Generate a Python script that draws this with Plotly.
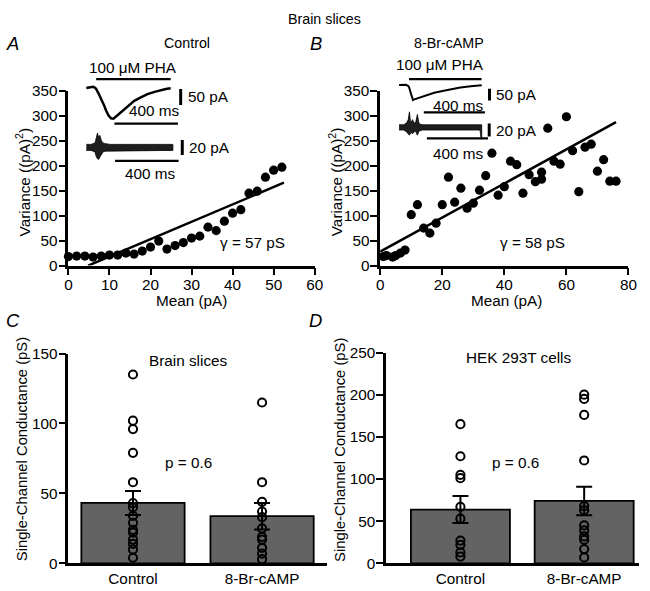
import plotly.graph_objects as go

W, H = 650, 591
FONT = "Liberation Sans"
# measured mapping of the photographed page: picture = OX + SX * page  (per axis)
OX, SX = 2.1, 0.987
OY, SY = 8.2, 0.972
FS = 1.02  # font/marker compensation for the slight photo shrink

# ---------------- Panel A data (Control) ----------------
meanA = [0, 2, 4, 6, 8, 10, 12, 14, 16, 18, 20, 22, 24, 26, 28, 30, 32, 34, 36, 38, 40, 42, 44, 46, 48, 50, 52]
varA = [18, 19, 19, 17, 19, 21, 21, 25, 23, 29, 37, 49, 33, 40, 46, 55, 59, 77, 70, 89, 105, 112, 145, 149, 177, 191, 197]
fitA_x = [4.8, 52.5]
fitA_y = [0, 166]

# ---------------- Panel B data (8-Br-cAMP) ----------------
meanB = [1, 2, 4, 5, 6.5, 8, 10, 12, 14, 16, 18, 20, 22, 24, 26, 28, 30, 32, 34, 36, 38, 40, 42, 44,
         46, 48, 50, 52, 52, 54, 56, 58, 60, 62, 64, 66, 68, 70, 72, 74, 76]
varB = [18, 20, 17, 20, 25, 31, 102, 122, 75, 65, 85, 122, 177, 127, 155, 115, 125, 151, 180, 225, 141, 158, 209, 202,
        145, 182, 168, 173, 187, 275, 209, 203, 298, 230, 148, 237, 243, 189, 212, 169, 169]
fitB_x = [0, 76]
fitB_y = [28, 287]

# ---------------- Panel C data (Brain slices) ----------------
groups = ["Control", "8-Br-cAMP"]
meanC = [43.2, 33.7]
semC = [8.6, 9.5]
ptsC_control = [135, 102, 96, 79, 58, 43, 40, 34, 29, 24, 22, 17, 14, 10, 4]
ptsC_camp = [115, 58, 44, 37, 33, 25, 19, 17, 11, 7, 3]

# ---------------- Panel D data (HEK 293T cells) ----------------
meanD = [63.8, 74.0]
semD = [16.0, 16.8]
ptsD_control = [165, 127, 105, 101, 67, 53, 27, 22, 13, 8]
ptsD_camp = [200, 195, 176, 122, 68, 63, 45, 39, 32, 28, 17, 7]

# ---------------- Inset traces (time in ms, current in pA) ----------------
traceA_t = [0, 20, 42, 55, 62, 75, 94, 110, 125, 140, 156, 170, 187, 210, 240, 270, 302, 340, 385, 430, 469, 500, 531]
traceA_i = [0, 2, 4, 1, -3, -15, -34, -52, -71, -86, -95, -96, -89, -79, -66, -52, -40, -30, -19, -12, -6, -3, -1]
noiseA_t = [0, 30, 55, 62, 70, 78, 85, 95, 105, 120, 150, 200, 300, 400, 500, 545]
noiseA_hi = [4, 4, 6, 12, 19, 13, 16, 9, 6, 5, 4, 4, 4, 4, 4, 4]
noiseA_lo = [-4, -4, -6, -12, -15, -16, -13, -9, -6, -5, -4, -4, -4, -4, -4, -4]

traceB_t = [0, 25, 45, 58, 65, 75, 84, 91, 100, 115, 130, 160, 184, 230, 292, 350, 401, 470, 541]
traceB_i = [0, 1, 1, -3, -8, -30, -50, -63, -60, -57, -52, -47, -42, -32, -24, -16, -10, -5, -1]
noiseB_t = [0, 30, 50, 60, 68, 74, 80, 88, 96, 108, 120, 130, 150, 250, 350, 450, 530, 537, 541]
noiseB_hi = [4, 4, 7, 12, 24, 9, 8, 12, 7, 7, 20, 6, 4, 4, 4, 4, 4, 4, 4]
noiseB_lo = [-4, -4, -7, -10, -12, -9, -8, -10, -7, -6, -12, -6, -4, -4, -4, -4, -4, -18, -18]

# scale-bar / stimulus values (ms, pA)
phaA = ([62, 531], 28)
phaB = ([65, 540], 25)
barA1 = ([177, 577], -111)
barA2 = ([181, 581], -18)
barB1 = ([162, 562], -114)
barB2 = ([182, 582], -17)
vbarA1 = (594, [-3, -53])
vbarA2 = (604, [10, -10])
vbarB1 = (592, [-15, -65])
vbarB2 = (590, [6, -14])


def fx(px):
    return min(1.0, max(0.0, (px - OX) / SX / W))


def fy(py):
    return min(1.0, max(0.0, 1 - (py - OY) / SY / H))


fig = go.Figure()
blk = "black"
MS = 9 * FS

# Panel A
fig.add_trace(go.Scatter(x=meanA, y=varA, mode="markers", marker=dict(color=blk, size=MS),
                         cliponaxis=False, xaxis="x", yaxis="y"))
fig.add_trace(go.Scatter(x=fitA_x, y=fitA_y, mode="lines", line=dict(color=blk, width=2.5),
                         xaxis="x", yaxis="y"))
# Panel B
fig.add_trace(go.Scatter(x=meanB, y=varB, mode="markers", marker=dict(color=blk, size=MS),
                         cliponaxis=False, xaxis="x2", yaxis="y2"))
fig.add_trace(go.Scatter(x=fitB_x, y=fitB_y, mode="lines", line=dict(color=blk, width=2.5),
                         xaxis="x2", yaxis="y2"))

# Panel C
fig.add_trace(go.Bar(x=groups, y=meanC, width=0.8, marker=dict(color="#636363", line=dict(color=blk, width=1.8)),
                     error_y=dict(type="data", array=semC, color=blk, thickness=2, width=8),
                     xaxis="x3", yaxis="y3"))
fig.add_trace(go.Scatter(x=[groups[0]] * len(ptsC_control) + [groups[1]] * len(ptsC_camp),
                         y=ptsC_control + ptsC_camp, mode="markers", cliponaxis=False,
                         marker=dict(symbol="circle-open", color=blk, size=8.2, line=dict(width=2)),
                         xaxis="x3", yaxis="y3"))
# Panel D
fig.add_trace(go.Bar(x=groups, y=meanD, width=0.8, marker=dict(color="#636363", line=dict(color=blk, width=1.8)),
                     error_y=dict(type="data", array=semD, color=blk, thickness=2, width=8),
                     xaxis="x4", yaxis="y4"))
fig.add_trace(go.Scatter(x=[groups[0]] * len(ptsD_control) + [groups[1]] * len(ptsD_camp),
                         y=ptsD_control + ptsD_camp, mode="markers", cliponaxis=False,
                         marker=dict(symbol="circle-open", color=blk, size=8.2, line=dict(width=2)),
                         xaxis="x4", yaxis="y4"))


def add_line(xs, ys, xa, ya, w=2.2):
    fig.add_trace(go.Scatter(x=xs, y=ys, mode="lines", line=dict(color=blk, width=w),
                             cliponaxis=False, xaxis=xa, yaxis=ya))


def add_band(ts, hi, lo, xa, ya):
    fig.add_trace(go.Scatter(x=ts + ts[::-1], y=hi + lo[::-1], mode="lines", fill="toself",
                             fillcolor="#1e1e1e", line=dict(color=blk, width=0.8), cliponaxis=False,
                             xaxis=xa, yaxis=ya))


# inset A top (mean current)
add_line(traceA_t, traceA_i, "x5", "y5", 2.5)
add_line(phaA[0], [phaA[1]] * 2, "x5", "y5")
add_line(barA1[0], [barA1[1]] * 2, "x5", "y5")
add_line([vbarA1[0]] * 2, vbarA1[1], "x5", "y5", 3)
# inset A bottom (noise)
add_band(noiseA_t, noiseA_hi, noiseA_lo, "x6", "y6")
add_line(barA2[0], [barA2[1]] * 2, "x6", "y6")
add_line([vbarA2[0]] * 2, vbarA2[1], "x6", "y6", 3)
# inset B top
add_line(traceB_t, traceB_i, "x7", "y7", 2)
add_line(phaB[0], [phaB[1]] * 2, "x7", "y7")
add_line(barB1[0], [barB1[1]] * 2, "x7", "y7")
add_line([vbarB1[0]] * 2, vbarB1[1], "x7", "y7", 3)
# inset B bottom
add_band(noiseB_t, noiseB_hi, noiseB_lo, "x8", "y8")
add_line(barB2[0], [barB2[1]] * 2, "x8", "y8")
add_line([vbarB2[0]] * 2, vbarB2[1], "x8", "y8", 3)

tickfont = dict(family=FONT, size=15 * FS, color=blk)
axis_common = dict(showline=True, linecolor=blk, linewidth=2.5, ticks="outside", ticklen=7,
                   tickwidth=2, tickcolor=blk, showgrid=False, zeroline=False, tickfont=tickfont,
                   fixedrange=True)
xnum = {**axis_common, "ticklabelstandoff": -4}
ynum = {**axis_common, "ticklabelstandoff": -2}
xcat = {**axis_common, "ticks": "", "ticklabelstandoff": 0}

hidden = dict(visible=False, showgrid=False, zeroline=False, fixedrange=True)

fig.update_layout(
    width=W, height=H, margin=dict(l=0, r=0, t=0, b=0),
    paper_bgcolor="white", plot_bgcolor="rgba(0,0,0,0)", showlegend=False,
    font=dict(family=FONT, color=blk),
    xaxis=dict(domain=[fx(67), fx(315)], range=[0, 60], tickvals=[0, 10, 20, 30, 40, 50, 60], anchor="y", **xnum),
    yaxis=dict(domain=[fy(265), fy(90)], range=[0, 350], tickvals=list(range(0, 351, 50)), anchor="x", **ynum),
    xaxis2=dict(domain=[fx(381), fx(631)], range=[0, 80], tickvals=[0, 20, 40, 60, 80], anchor="y2", **xnum),
    yaxis2=dict(domain=[fy(265), fy(90)], range=[0, 350], tickvals=list(range(0, 351, 50)), anchor="x2", **ynum),
    xaxis3=dict(domain=[fx(67), fx(327)], range=[-0.5, 1.5], type="category", anchor="y3", **xcat),
    yaxis3=dict(domain=[fy(563), fy(353)], range=[0, 150], tickvals=[0, 50, 100, 150], anchor="x3", **ynum),
    xaxis4=dict(domain=[fx(387), fx(642)], range=[-0.6, 1.446], type="category", anchor="y4", **xcat),
    yaxis4=dict(domain=[fy(563), fy(352)], range=[0, 250], tickvals=[0, 50, 100, 150, 200, 250], anchor="x4", **ynum),
    xaxis5=dict(domain=[fx(80), fx(240)], range=[-31.25, 968.75], anchor="y5", **hidden),
    yaxis5=dict(domain=[fy(125), fy(55)], range=[-117.8, 100.9], anchor="x5", **hidden),
    xaxis6=dict(domain=[fx(80), fx(240)], range=[-31.25, 968.75], anchor="y6", **hidden),
    yaxis6=dict(domain=[fy(180), fy(128)], range=[-44.4, 24.9], anchor="x6", **hidden),
    xaxis7=dict(domain=[fx(395), fx(555)], range=[-32.5, 1007.5], anchor="y7", **hidden),
    yaxis7=dict(domain=[fy(120), fy(55)], range=[-148.9, 122.2], anchor="x7", **hidden),
    xaxis8=dict(domain=[fx(395), fx(555)], range=[-32.5, 1007.5], anchor="y8", **hidden),
    yaxis8=dict(domain=[fy(165), fy(105)], range=[-59, 33.4], anchor="x8", **hidden),
)


def ann(text, x, y, size=14, xref="paper", yref="paper", xanchor="center", yanchor="middle", angle=0, italic=False):
    if italic:
        text = "<i>" + text + "</i>"
    fig.add_annotation(text=text, x=x, y=y, xref=xref, yref=yref, showarrow=False,
                       xanchor=xanchor, yanchor=yanchor, textangle=angle,
                       font=dict(family=FONT, size=size * FS, color=blk))


# titles and labels
ann("Brain slices", fx(325), 1.0, 14, yanchor="top")
ann("A", fx(11), fy(43), 18, italic=True)
ann("B", fx(316), fy(43), 18, italic=True)
ann("C", fx(11), fy(320), 18, italic=True)
ann("D", fx(316), fy(320), 18, italic=True)
ann("Control", fx(186), fy(42), 14)
ann("8-Br-cAMP", fx(450), fy(42), 14)
ann("Variance ((pA)<sup>2</sup>)", fx(21), fy(181), 15, angle=-90)
ann("Variance ((pA)<sup>2</sup>)", fx(336), fy(181), 15, angle=-90)
ann("Mean (pA)", fx(191), fy(300), 15)
ann("Mean (pA)", fx(508), fy(300), 15)
ann("γ = 57 pS", fx(252), fy(242), 15)
ann("γ = 58 pS", fx(534), fy(242), 15)
ann("Single-Channel Conductance (pS)", fx(21), fy(449), 14.5, angle=-90)
ann("Single-Channel Conductance (pS)", fx(341), fy(449), 14.5, angle=-90)
ann("Brain slices", fx(188), fy(360), 15)
ann("HEK 293T cells", fx(520), fy(357), 15)
ann("p = 0.6", fx(188), fy(462), 15)
ann("p = 0.6", fx(517), fy(462), 15)

# inset labels
ann("100 μM PHA", 292, 64, 15, "x5", "y5")
ann("400 ms", 427, -71, 15, "x5", "y5")
ann("50 pA", 625, -28, 15, "x5", "y5", xanchor="left")
ann("20 pA", 635, 0, 15, "x6", "y6", xanchor="left")
ann("400 ms", 406, -35, 15, "x6", "y6")
ann("100 μM PHA", 271, 87, 15, "x7", "y7")
ann("400 ms", 390, -86, 15, "x7", "y7")
ann("50 pA", 620, -40, 15, "x7", "y7", xanchor="left")
ann("20 pA", 620, -5, 15, "x8", "y8", xanchor="left")
ann("400 ms", 390, -40, 15, "x8", "y8")

fig.write_html("out.html", config={"displayModeBar": False},
               post_script="document.body.style.margin='0';document.body.style.padding='0';")
